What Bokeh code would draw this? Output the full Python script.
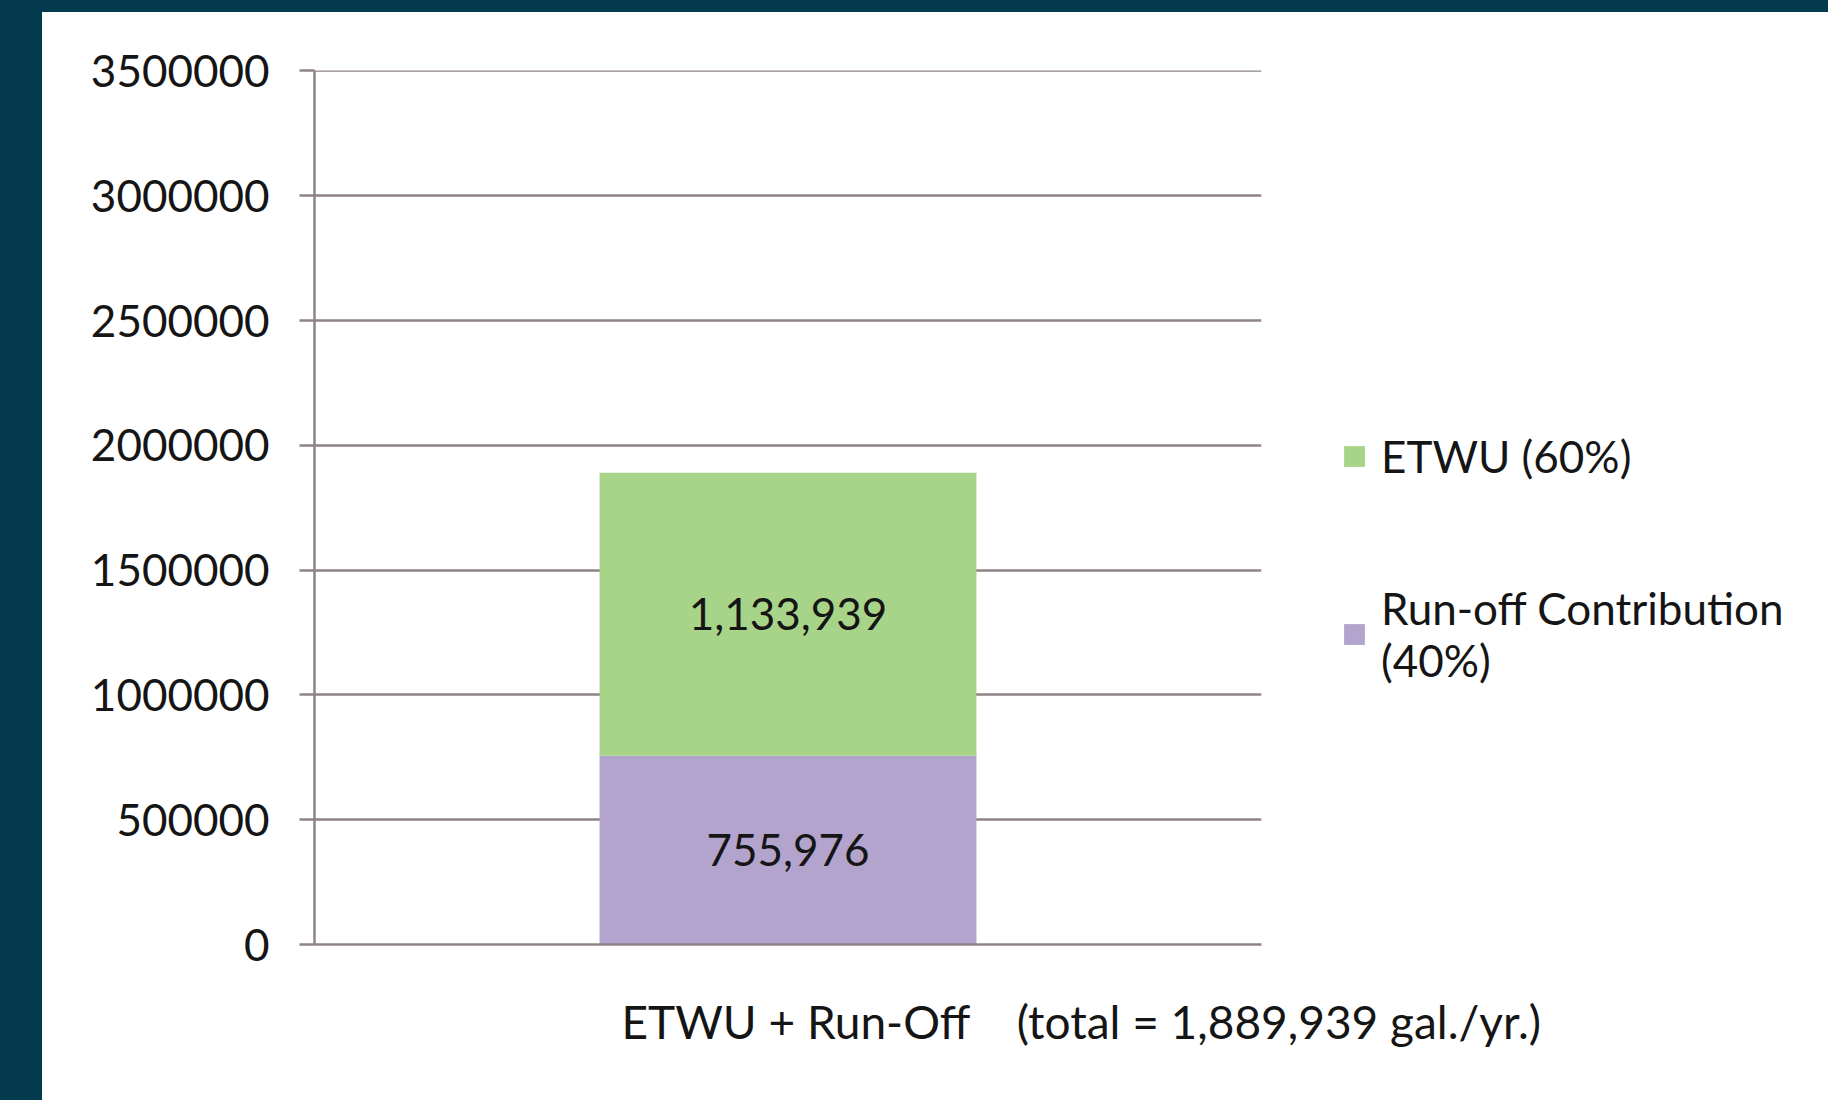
from bokeh.plotting import figure
from bokeh.models import (Legend, LegendItem, LabelSet, ColumnDataSource, Title,
                          FactorRange, Range1d, SingleIntervalTicker, BasicTickFormatter, Div)
from bokeh.layouts import column, row
from bokeh.embed import file_html
from bokeh.resources import INLINE
from bokeh.core.properties import value

# ---- data ----
categories = ["ETWU + Run-Off\u00a0\u00a0\u00a0 (total = 1,889,939 gal./yr.)"]
runoff = [755976]
etwu = [1133939]
series_labels = ["ETWU (60%)", "Run-off Contribution\n(40%)"]
y_max = 3500000
y_step = 500000

GREEN = "#a8d48a"
PURPLE = "#b3a4cd"
GRID = "#8f8484"
DARK = "#033a4e"
TXT = "#151515"
FONT = "Lato"

src = ColumnDataSource(dict(cat=categories, runoff=runoff, etwu=etwu))

p = figure(x_range=FactorRange(factors=categories, range_padding=0),
           y_range=Range1d(0, y_max * 1.0005),
           frame_width=947, frame_height=874, output_backend="svg", toolbar_location=None,
           min_border_left=270, min_border_right=0, min_border_top=56, min_border_bottom=146)
p.background_fill_color = "white"
p.border_fill_color = "white"
p.outline_line_color = None

rs = p.vbar_stack(["runoff", "etwu"], x="cat", width=0.398, source=src,
                  color=[PURPLE, GREEN], line_color=None)

# data labels
mids = [runoff[0] / 2, runoff[0] + etwu[0] / 2]
lab_src = ColumnDataSource(dict(x=[categories[0]] * 2, y=mids,
                                t=[f"{runoff[0]:,}", f"{etwu[0]:,}"]))
p.add_layout(LabelSet(x="x", y="y", text="t", source=lab_src, text_align="center",
                      text_baseline="middle", text_font=value(FONT), text_font_size="44px",
                      text_color=TXT))

# y axis
p.yaxis.ticker = SingleIntervalTicker(interval=y_step)
p.yaxis.formatter = BasicTickFormatter(use_scientific=False)
p.yaxis.axis_line_color = GRID
p.yaxis.axis_line_width = 2.5
p.yaxis.major_tick_line_color = GRID
p.yaxis.major_tick_line_width = 2.5
p.yaxis.major_tick_out = 15
p.yaxis.major_tick_in = 0
p.yaxis.minor_tick_line_color = None
p.yaxis.major_label_standoff = 30
p.yaxis.major_label_text_font = FONT
p.yaxis.major_label_text_font_size = "44px"
p.yaxis.major_label_text_color = TXT

p.ygrid.grid_line_color = GRID
p.ygrid.grid_line_width = 2.5
p.xgrid.grid_line_color = None

# x axis
p.xaxis.axis_line_color = GRID
p.xaxis.axis_line_width = 2.5
p.xaxis.major_tick_line_color = None
p.xaxis.major_label_text_alpha = 0
p.xaxis.major_label_text_font_size = "2px"

# category label (offset to the right as in the original)
p.add_layout(Title(text=categories[0], align="left", offset=307, standoff=82,
                   text_font=FONT, text_font_size="46px", text_font_style="normal",
                   text_color=TXT), "below")

legend = Legend(items=[LegendItem(label=series_labels[0], renderers=[rs[1]]),
                       LegendItem(label=series_labels[1], renderers=[rs[0]])],
                location=(80, 258), orientation="vertical",
                glyph_width=26, glyph_height=26, label_standoff=14, spacing=100,
                padding=0, margin=0, border_line_color=None, background_fill_alpha=0,
                label_text_font=FONT, label_text_font_size="44px", label_text_color=TXT)
p.add_layout(legend, "right")

top = Div(text='<div style="position:fixed;left:0;top:0;width:100vw;height:12px;'
               f'background:{DARK}"></div>',
          width=1810, height=4, styles={"background-color": DARK})
left = Div(text='<div style="position:fixed;left:0;top:0;width:42px;height:100vh;'
                f'background:{DARK}"></div>',
           width=34, height=1076, styles={"background-color": DARK})
layout = column(top, row(left, p, spacing=0), spacing=0)

open("out.html", "w").write(file_html(layout, INLINE))
